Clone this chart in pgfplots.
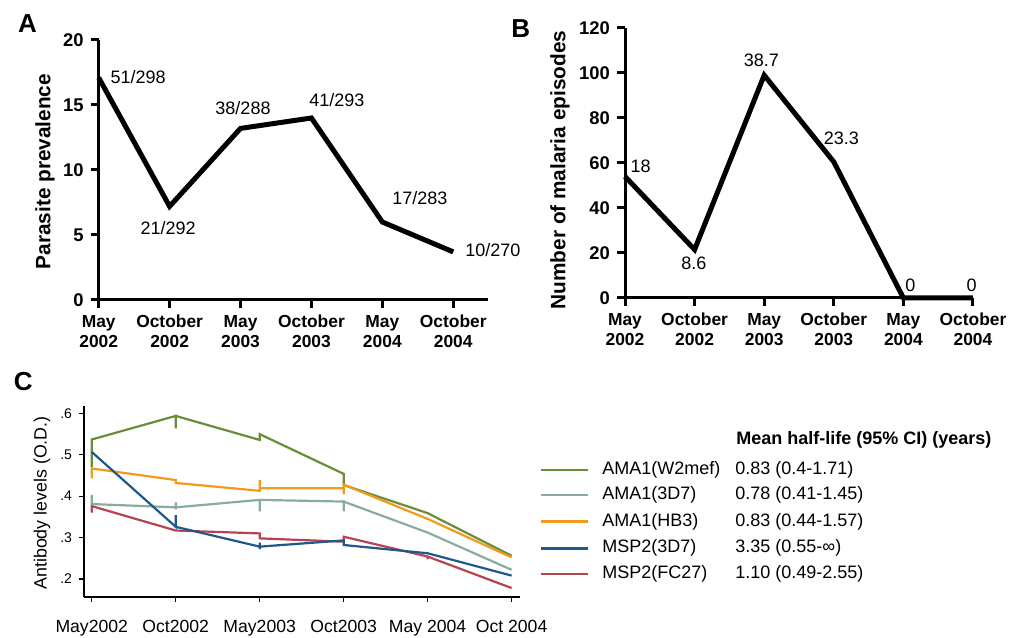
\documentclass[border=0pt]{standalone}
\usepackage{fontspec}
\setmainfont{Liberation Sans}
\usepackage{pgfplots}
\pgfplotsset{compat=1.18}
\definecolor{cgreen}{RGB}{105,142,55}
\definecolor{cgrey}{RGB}{138,172,160}
\definecolor{corange}{RGB}{242,153,30}
\definecolor{cblue}{RGB}{30,88,140}
\definecolor{cred}{RGB}{180,68,82}
\begin{document}
\begin{tikzpicture}
\path[use as bounding box] (0,0) rectangle (507pt,319pt);
% ---------- Panel A ----------
\begin{axis}[at={(49.35pt,169pt)}, anchor=south west, scale only axis,
  width=194.65pt, height=130pt,
  xmin=0, xmax=5.49, ymin=0, ymax=20,
  axis x line=bottom, axis y line=left,
  axis line style={-,line width=1.5pt},
  tick style={black,line width=1.5pt}, major tick length=4pt, tick align=outside,
  xtick={0,...,5},
  xticklabels={{May\\2002},{October\\2002},{May\\2003},{October\\2003},{May\\2004},{October\\2004}},
  xticklabel style={align=center,font=\bfseries\fontsize{8.7}{10}\selectfont},
  ytick={0,5,10,15,20},
  yticklabel style={font=\bfseries\fontsize{9.2}{10}\selectfont},
  /pgf/number format/assume math mode=true, clip=false]
\addplot[black,line width=2.5pt] coordinates {(0,17.1)(1,7.2)(2,13.2)(3,14.0)(4,6.0)(5,3.7)};
\begin{scope}[every node/.style={font=\fontsize{9}{10}\selectfont}]
\node at (axis cs:0.555,17.15) {51/298};
\node at (axis cs:0.98,5.54) {21/292};
\node at (axis cs:2.035,14.77) {38/288};
\node at (axis cs:3.36,15.38) {41/293};
\node at (axis cs:4.53,7.85) {17/283};
\node at (axis cs:5.56,3.85) {10/270};
\end{scope}
\end{axis}
% ---------- Panel B ----------
\begin{axis}[at={(312.5pt,170pt)}, anchor=south west, scale only axis,
  width=174pt, height=135pt,
  xmin=0, xmax=5, ymin=0, ymax=120,
  axis x line=bottom, axis y line=left,
  axis line style={-,line width=1.5pt},
  tick style={black,line width=1.5pt}, major tick length=4pt, tick align=outside,
  xtick={0,...,5},
  xticklabels={{May\\2002},{October\\2002},{May\\2003},{October\\2003},{May\\2004},{October\\2004}},
  xticklabel style={align=center,font=\bfseries\fontsize{8.7}{10}\selectfont},
  ytick={0,20,40,60,80,100,120},
  yticklabel style={font=\bfseries\fontsize{9.2}{10}\selectfont},
  /pgf/number format/assume math mode=true, clip=false]
\addplot[black,line width=2.5pt] coordinates {(0,54)(1,21.5)(2,99)(3,60.5)(4,0)(5,0)};
\begin{scope}[every node/.style={font=\fontsize{9}{10}\selectfont}]
\node at (axis cs:0.225,58.4) {18};
\node at (axis cs:0.99,15.4) {8.6};
\node at (axis cs:1.96,105.8) {38.7};
\node at (axis cs:3.11,71) {23.3};
\node at (axis cs:4.1,5.8) {0};
\node at (axis cs:4.98,5.8) {0};
\end{scope}
\end{axis}
% ---------- Panel C ----------
\begin{axis}[at={(42pt,20.65pt)}, anchor=south west, scale only axis,
  width=218pt, height=95.35pt,
  xmin=-0.092, xmax=5.1, ymin=0.157, ymax=0.618,
  axis x line=bottom, axis y line=left,
  axis line style={-,line width=0.8pt},
  tick style={black,line width=0.6pt}, major tick length=2.5pt, tick align=outside,
  xtick={0,...,5},
  xticklabels={May2002,Oct2002,May2003,Oct2003,May 2004,Oct 2004},
  xticklabel style={font=\fontsize{8.8}{10}\selectfont, yshift=-5.5pt},
  ytick={0.2,0.3,0.4,0.5,0.6},
  yticklabels={.2,.3,.4,.5,.6},
  yticklabel style={font=\fontsize{7}{8}\selectfont},
  /pgf/number format/assume math mode=true, clip=false]
\addplot[cgrey,line width=1.1pt] coordinates {(0,0.403)(0,0.381)(1,0.373)(1,0.385)(1,0.368)(1,0.373)(2,0.391)(2,0.363)(2,0.391)(3,0.387)(3,0.363)(3,0.387)(4,0.312)(5,0.222)};
\addplot[cgreen,line width=1.1pt] coordinates {(0,0.47)(0,0.537)(1,0.594)(1,0.564)(1,0.594)(2,0.536)(2,0.550)(3,0.454)(3,0.427)(4,0.359)(5,0.256)};
\addplot[corange,line width=1.1pt] coordinates {(0,0.443)(0,0.467)(1,0.439)(1,0.432)(2,0.413)(2,0.439)(2,0.419)(3,0.419)(3,0.405)(3,0.428)(4,0.345)(5,0.252)};
\addplot[cred,line width=1.1pt] coordinates {(0,0.36)(0,0.376)(1,0.317)(2,0.310)(2,0.298)(3,0.290)(3,0.302)(4,0.254)(4,0.247)(4,0.254)(5,0.178)};
\addplot[cblue,line width=1.1pt] coordinates {(0,0.507)(1,0.326)(1,0.354)(1,0.326)(2,0.278)(2,0.288)(2,0.272)(2,0.278)(3,0.293)(3,0.282)(4,0.262)(5,0.208)};
\end{axis}
% ---------- labels ----------
\node[rotate=90,font=\bfseries\fontsize{10.4}{12}\selectfont] at (22.5pt,233.2pt) {Parasite prevalence};
\node[rotate=90,font=\bfseries\fontsize{10.4}{12}\selectfont] at (280pt,234pt) {Number of malaria episodes};
\node[rotate=90,font=\fontsize{8.9}{10}\selectfont] at (21pt,67.5pt) {Antibody levels (O.D.)};
\node[font=\bfseries\fontsize{13}{14}\selectfont] at (13.75pt,307.2pt) {A};
\node[font=\bfseries\fontsize{13}{14}\selectfont] at (260.4pt,304.5pt) {B};
\node[font=\bfseries\fontsize{13}{14}\selectfont] at (11.6pt,128.2pt) {C};
% ---------- legend ----------
\node[anchor=west,font=\bfseries\fontsize{9}{10}\selectfont,inner sep=0pt] at (368pt,99pt) {Mean half-life (95\% CI) (years)};
\begin{scope}[every node/.style={anchor=west,inner sep=0pt,font=\fontsize{9}{10}\selectfont}]
\draw[cgreen,line width=1.3pt] (270.5pt,84pt) -- (294pt,84pt);
\node at (301pt,84pt) {AMA1(W2mef)}; \node at (367.5pt,84pt) {0.83 (0.4-1.71)};
\draw[cgrey,line width=1.3pt] (270.5pt,71.5pt) -- (294pt,71.5pt);
\node at (301pt,71.5pt) {AMA1(3D7)}; \node at (367.5pt,71.5pt) {0.78 (0.41-1.45)};
\draw[corange,line width=1.3pt] (270.5pt,58.15pt) -- (294pt,58.15pt);
\node at (301pt,58.15pt) {AMA1(HB3)}; \node at (367.5pt,58.15pt) {0.83 (0.44-1.57)};
\draw[cblue,line width=1.3pt] (270.5pt,44.85pt) -- (294pt,44.85pt);
\node at (301pt,44.85pt) {MSP2(3D7)}; \node at (367.5pt,44.85pt) {3.35 (0.55-∞)};
\draw[cred,line width=1.3pt] (270.5pt,32pt) -- (294pt,32pt);
\node at (301pt,32pt) {MSP2(FC27)}; \node at (367.5pt,32pt) {1.10 (0.49-2.55)};
\end{scope}
\end{tikzpicture}
\end{document}
